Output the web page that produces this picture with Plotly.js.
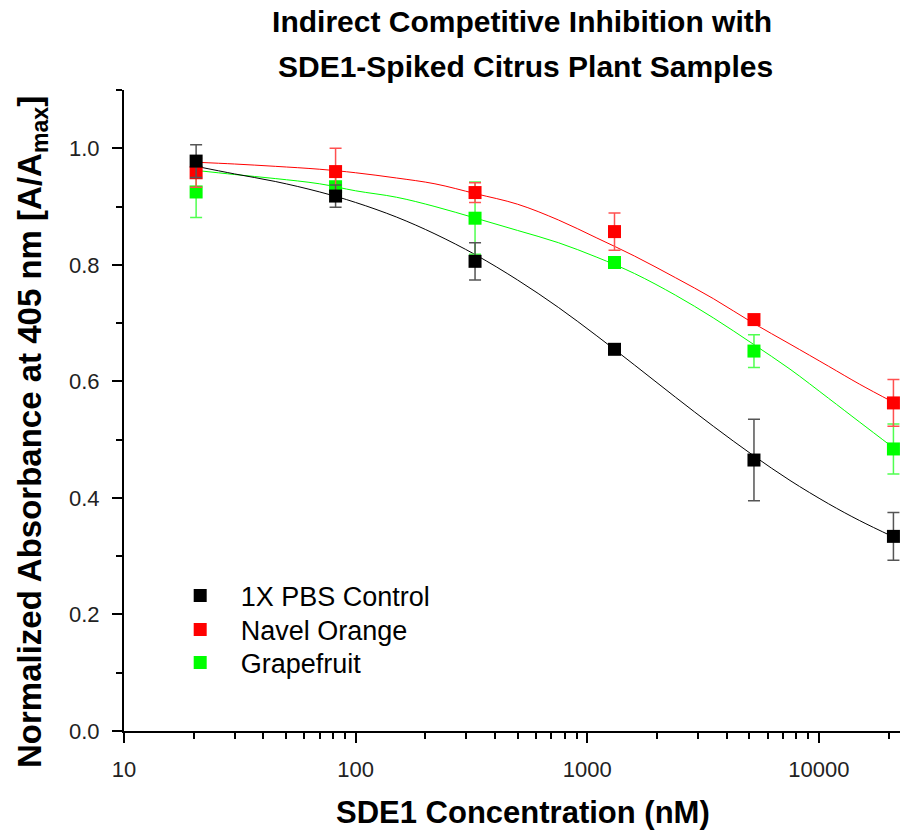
<!DOCTYPE html>
<html>
<head>
<meta charset="utf-8">
<script src="https://cdn.plot.ly/plotly-3.0.1.min.js"></script>
<style>
  html, body { margin: 0; padding: 0; background: #fff; }
  #chart { width: 902px; height: 831px; }
</style>
</head>
<body>
<div id="chart"></div>
<script>
// ---- data ----
const concentration = [20.48, 81.92, 327.68, 1310.72, 5242.88, 20971.52];

const pbsValues   = [0.978, 0.918, 0.806, 0.655, 0.465, 0.334];
const pbsErrors   = [0.028, 0.019, 0.032, 0.006, 0.070, 0.041];

const navelValues = [0.958, 0.960, 0.924, 0.857, 0.706, 0.563];
const navelErrors = [0.025, 0.040, 0.017, 0.032, 0.005, 0.040];

const grapeValues = [0.925, 0.934, 0.880, 0.804, 0.652, 0.484];
const grapeErrors = [0.044, 0.025, 0.062, 0.006, 0.028, 0.043];

// fitted curves
const fitX = [20.48, 30, 45, 70, 100, 150, 220, 330, 500, 750, 1100, 1600, 2400, 3500, 5200, 7500, 11000, 15000, 20971.52];
const pbsFit   = [0.969, 0.956, 0.943, 0.925, 0.907, 0.882, 0.853, 0.817, 0.774, 0.727, 0.678, 0.628, 0.573, 0.523, 0.473, 0.430, 0.390, 0.361, 0.333];
const navelFit = [0.976, 0.973, 0.969, 0.964, 0.958, 0.949, 0.939, 0.922, 0.904, 0.877, 0.846, 0.815, 0.778, 0.742, 0.700, 0.664, 0.626, 0.595, 0.564];
const grapeFit = [0.962, 0.955, 0.948, 0.939, 0.927, 0.916, 0.900, 0.880, 0.859, 0.838, 0.813, 0.785, 0.748, 0.709, 0.664, 0.621, 0.571, 0.530, 0.486];

const seriesNames = ['1X PBS Control', 'Navel Orange', 'Grapefruit'];

const xMajorTicks = [10, 100, 1000, 10000];
const xMinorTicks = [20, 30, 40, 50, 60, 70, 80, 90, 200, 300, 400, 500, 600, 700, 800, 900,
                     2000, 3000, 4000, 5000, 6000, 7000, 8000, 9000, 20000];

const titleLine1 = 'Indirect Competitive Inhibition with';
const titleLine2 = 'SDE1-Spiked Citrus Plant Samples';
const xTitle = 'SDE1 Concentration (nM)';
const yTitle = 'Normalized Absorbance at 405 nm [A/A<sub>max</sub>]';

// ---- styling ----
const FONT = 'Liberation Sans, Arial, sans-serif';
const colors = ['#000000', '#ff0000', '#00ff00'];
const errColors = ['#555555', '#ff5050', '#50ff50'];
const legendIds = ['legend', 'legend2', 'legend3'];
const legendRowPx = [596, 630, 663];

const fits = [pbsFit, navelFit, grapeFit];
const vals = [pbsValues, navelValues, grapeValues];
const errs = [pbsErrors, navelErrors, grapeErrors];

const traces = [];
for (let i = 2; i >= 0; i--) {
  traces.push({
    x: fitX, y: fits[i], mode: 'lines', type: 'scatter',
    line: { color: colors[i], width: 1, shape: 'spline', smoothing: 1 },
    showlegend: false, hoverinfo: 'skip'
  });
}
for (let i = 2; i >= 0; i--) {
  traces.push({
    x: concentration, y: vals[i], mode: 'markers', type: 'scatter',
    name: seriesNames[i], legend: legendIds[i],
    marker: { symbol: 'square', size: 13, color: colors[i] },
    error_y: { type: 'data', array: errs[i], visible: true, color: errColors[i], thickness: 1.5, width: 6 }
  });
}

const boldFont = (size) => ({ family: FONT, size: size, color: '#000', weight: 'bold' });

const layout = {
  width: 902, height: 831,
  paper_bgcolor: '#ffffff', plot_bgcolor: '#ffffff',
  margin: { l: 124, r: 2, t: 90, b: 100 },
  font: { family: FONT, color: '#000' },
  title: {
    text: titleLine1,
    font: boldFont(30),
    x: 0.513, xref: 'paper', xanchor: 'center',
    y: 1 - 21 / 831, yref: 'container', yanchor: 'middle'
  },
  annotations: [
    {
      text: titleLine2,
      xref: 'paper', yref: 'paper', x: 0.518, y: 1.0 + (90 - 67) / 641,
      xanchor: 'center', yanchor: 'middle', showarrow: false,
      font: boldFont(30)
    },
    {
      text: xTitle,
      xref: 'paper', yref: 'paper', x: (523 - 124) / 776, y: -(812 - 731) / 641,
      xanchor: 'center', yanchor: 'middle', showarrow: false,
      font: boldFont(31)
    },
    {
      text: yTitle, textangle: -90,
      xref: 'paper', yref: 'paper', x: (32 - 124) / 776, y: (731 - 432) / 641,
      xanchor: 'center', yanchor: 'middle', showarrow: false,
      font: boldFont(33)
    }
  ],
  xaxis: {
    type: 'log', range: [1, 4.35],
    tickmode: 'array', tickvals: xMajorTicks, ticktext: xMajorTicks.map(String),
    ticks: 'outside', ticklen: 10, tickwidth: 2, tickcolor: '#000',
    minor: { tickmode: 'array', tickvals: xMinorTicks, ticks: 'outside', ticklen: 6, tickwidth: 2, tickcolor: '#000', showgrid: false },
    showline: true, linewidth: 2, linecolor: '#000', mirror: false,
    showgrid: false, zeroline: false,
    tickfont: { family: FONT, size: 22, color: '#222' },
    ticklabelstandoff: 8
  },
  yaxis: {
    range: [0, 1.1], dtick: 0.2, tick0: 0, tickformat: '.1f',
    ticks: 'outside', ticklen: 10, tickwidth: 2, tickcolor: '#000',
    minor: { dtick: 0.1, ticks: 'outside', ticklen: 6, tickwidth: 2, tickcolor: '#000', showgrid: false },
    showline: true, linewidth: 2, linecolor: '#000', mirror: false,
    showgrid: false, zeroline: false,
    tickfont: { family: FONT, size: 22, color: '#222' },
    ticklabelstandoff: 8
  },
  showlegend: true
};

legendIds.forEach((id, i) => {
  layout[id] = {
    x: 0.046, y: (731 - legendRowPx[i]) / 641, xanchor: 'left', yanchor: 'middle',
    bgcolor: 'rgba(0,0,0,0)', borderwidth: 0,
    font: { family: FONT, size: 27, color: '#000' },
    itemwidth: 71
  };
});

Plotly.newPlot('chart', traces, layout, { displayModeBar: false, staticPlot: true });
</script>
</body>
</html>
